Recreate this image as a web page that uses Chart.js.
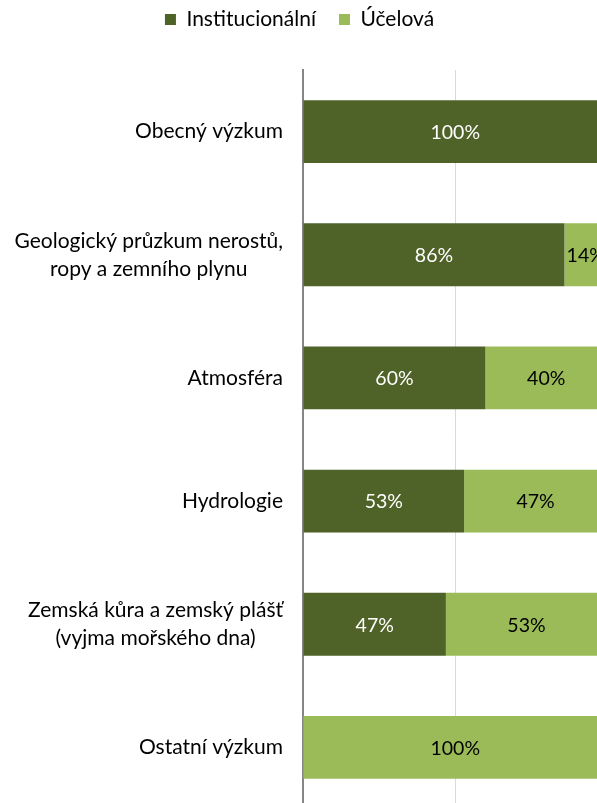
<!DOCTYPE html>
<html>
<head>
<meta charset="utf-8">
<script src="https://cdn.jsdelivr.net/npm/chart.js@4.4.0/dist/chart.umd.min.js"></script>
<style>
  html, body { margin: 0; padding: 0; background: #fff; }
  #wrap { width: 597px; height: 803px; overflow: hidden; }
  canvas { display: block; }
</style>
</head>
<body>
<div id="wrap"><canvas id="chart" width="620" height="812"></canvas></div>
<script>
const categories = [
  ['Obecný výzkum'],
  ['Geologický průzkum nerostů,', 'ropy a zemního plynu'],
  ['Atmosféra'],
  ['Hydrologie'],
  ['Zemská kůra a zemský plášť', '(vyjma mořského dna)'],
  ['Ostatní výzkum']
];
const institucionalni = [100, 86, 60, 53, 47, 0];
const ucelova = [0, 14, 40, 47, 53, 100];
const seriesNames = ['Institucionální', 'Účelová'];
const seriesColors = ['#4F6228', '#9BBB59'];
const valueColors = ['#ffffff', '#000000'];
const fontFamily = 'Lato, "Open Sans", sans-serif';

// legend keeps wide item spacing but only takes a fixed height
const legendHeight = {
  id: 'legendHeight',
  afterInit(chart) {
    const lg = chart.legend;
    const fit = lg.fit;
    lg.fit = function () {
      fit.call(this);
      this.height = 84;
    };
  }
};

// category names: block right aligned, lines centred inside the block
const categoryLabels = {
  id: 'categoryLabels',
  afterDraw(chart) {
    const ctx = chart.ctx;
    const y = chart.scales.y;
    const right = chart.chartArea.left - 20;
    ctx.save();
    ctx.font = '21px ' + fontFamily;
    ctx.fillStyle = '#000';
    ctx.textAlign = 'center';
    ctx.textBaseline = 'middle';
    categories.forEach((lines, i) => {
      const yc = y.getPixelForTick(i);
      const w = Math.max(...lines.map(l => ctx.measureText(l).width));
      lines.forEach((l, j) => {
        ctx.fillText(l, right - w / 2, yc + (j - (lines.length - 1) / 2) * 28);
      });
    });
    ctx.restore();
  }
};

// percent labels in the middle of each segment
const valueLabels = {
  id: 'valueLabels',
  afterDatasetsDraw(chart) {
    const ctx = chart.ctx;
    ctx.save();
    ctx.font = '19.5px ' + fontFamily;
    ctx.textAlign = 'center';
    ctx.textBaseline = 'middle';
    chart.data.datasets.forEach((ds, di) => {
      const meta = chart.getDatasetMeta(di);
      meta.data.forEach((bar, i) => {
        const v = ds.data[i];
        if (!v) return;
        const p = bar.getProps(['x', 'base', 'y'], true);
        ctx.fillStyle = valueColors[di];
        ctx.fillText(v + '%', (p.x + p.base) / 2, p.y + 1);
      });
    });
    ctx.restore();
  }
};

new Chart(document.getElementById('chart'), {
  type: 'bar',
  data: {
    labels: categories,
    datasets: [
      { label: seriesNames[0], data: institucionalni, backgroundColor: seriesColors[0] },
      { label: seriesNames[1], data: ucelova, backgroundColor: seriesColors[1] }
    ]
  },
  options: {
    indexAxis: 'y',
    responsive: false,
    animation: false,
    layout: { padding: { left: -8, right: 13, top: -14, bottom: 3 } },
    datasets: {
      bar: { categoryPercentage: 1, barPercentage: 0.51, borderWidth: 0 }
    },
    scales: {
      x: {
        stacked: true,
        min: 0,
        max: 100,
        ticks: { display: false, stepSize: 50 },
        grid: {
          drawTicks: false,
          color: (c) => c.index === 0 ? 'rgba(0,0,0,0)' : '#d9d9d9',
          lineWidth: 1
        },
        border: { display: false }
      },
      y: {
        stacked: true,
        ticks: { display: false },
        grid: { display: false, drawTicks: false },
        border: { display: true, color: '#868686', width: 2 },
        afterFit: (scale) => { scale.width = 311; }
      }
    },
    plugins: {
      legend: {
        position: 'top',
        labels: {
          boxWidth: 11,
          boxHeight: 11,
          padding: 23,
          color: '#000',
          font: { family: fontFamily, size: 21 }
        }
      },
      tooltip: { enabled: false }
    }
  },
  plugins: [legendHeight, categoryLabels, valueLabels]
});
</script>
</body>
</html>
